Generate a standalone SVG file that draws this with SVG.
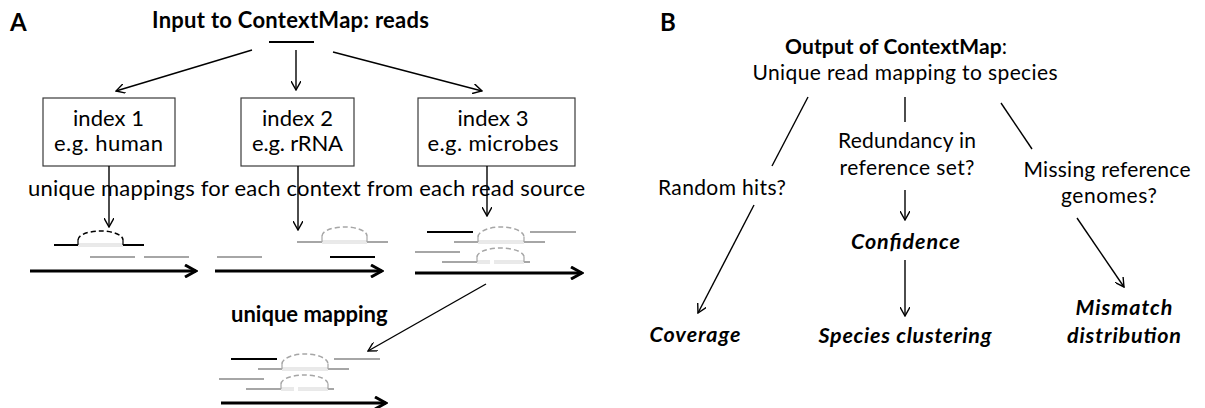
<svg xmlns="http://www.w3.org/2000/svg" xmlns:xlink="http://www.w3.org/1999/xlink" width="1205" height="408" viewBox="0 0 1205 408">
  <style>
    text { font-family: Lato, "Liberation Sans", sans-serif; fill: #000; }
    .lbl { font-size: 24px; font-weight: bold; }
    .ttl { font-size: 22px; font-weight: bold; }
    .box-t { font-size: 22px; }
    .long { font-size: 22px; }
    .txt { font-size: 21px; }
    .res { font-size: 21.5px; font-weight: bold; font-style: italic; }
    .box { fill: #fff; stroke: #3a3a3a; stroke-width: 1.2; }
    .edge { fill: none; stroke: #000; stroke-width: 1.4; }
    .edge-a { fill: none; stroke: #000; stroke-width: 1.4; marker-end: url(#chev); }
    .genome { fill: none; stroke: #000; stroke-width: 3; marker-end: url(#chevBig); }
    .rk { fill: none; stroke: #000; stroke-width: 2; }
    .rg { fill: none; stroke: #a6a6a6; stroke-width: 2; }
    .tk { fill: none; stroke: #000; stroke-width: 1.2; }
    .tg { fill: none; stroke: #a6a6a6; stroke-width: 1.2; }
    .arcK { fill: none; stroke: #000; stroke-width: 1.5; stroke-dasharray: 5 3; }
    .arcG { fill: none; stroke: #a6a6a6; stroke-width: 1.5; stroke-dasharray: 5 3; }
    .gap { fill: none; stroke: #d4d4d4; stroke-width: 3; }
    .gapIn { fill: none; stroke: #fff; stroke-width: 1; }
  </style>
  <defs>
    <marker id="chev" viewBox="0 0 10 10" refX="9" refY="5" markerWidth="10" markerHeight="10" markerUnits="userSpaceOnUse" orient="auto">
      <path d="M0,0 L9,5 L0,10" fill="none" stroke="#000" stroke-width="1.4"/>
    </marker>
    <marker id="chevBig" viewBox="0 0 14 14" refX="12" refY="7" markerWidth="14" markerHeight="14" markerUnits="userSpaceOnUse" orient="auto">
      <path d="M1,1 L12,7 L1,13" fill="none" stroke="#000" stroke-width="3"/>
    </marker>
    <!-- stacked reads with two spliced alignments (microbe context) -->
    <g id="readsMicrobes">
      <path class="rk" d="M427,232 H473"/>
      <path class="rg" d="M454,242 H478 M524,242 H545"/>
      <path class="gap" d="M478,242 H524"/>
      <path class="gapIn" d="M478,242 H524"/>
      <path class="tg" d="M478,242 V237 M524,237 V242"/>
      <path class="arcG" d="M478,237 A23,10 0 0 1 524,237"/>
      <path class="rg" d="M530,232 H576"/>
      <path class="rg" d="M415,252 H460"/>
      <path class="rg" d="M442,262 H477 M524,262 H530"/>
      <path class="gap" d="M477,262 H490 M494,262 H524"/>
      <path class="gapIn" d="M477,262 H490 M494,262 H524"/>
      <path class="tg" d="M477,262 V257 M524,257 V262"/>
      <path class="arcG" d="M477,257 A23.5,9 0 0 1 524,257"/>
    </g>
  </defs>

  <rect width="1205" height="408" fill="#fff"/>

  <!-- ===== Panel A ===== -->
  <text class="lbl" x="10" y="31">A</text>

  <g id="input">
    <text class="ttl" x="152" y="28" textLength="277">Input to ContextMap: reads</text>
    <path class="rk" d="M269,42 H314"/>
  </g>

  <g id="index1">
    <rect class="box" x="43" y="98" width="132" height="68"/>
    <text class="box-t" x="108.5" y="126" text-anchor="middle" textLength="71">index 1</text>
    <text class="box-t" x="108.5" y="151" text-anchor="middle" textLength="109">e.g. human</text>
  </g>
  <g id="index2">
    <rect class="box" x="241" y="98" width="113" height="68"/>
    <text class="box-t" x="297.5" y="126" text-anchor="middle" textLength="71">index 2</text>
    <text class="box-t" x="297.5" y="151" text-anchor="middle" textLength="91">e.g. rRNA</text>
  </g>
  <g id="index3">
    <rect class="box" x="418" y="98" width="157" height="68"/>
    <text class="box-t" x="493" y="126" text-anchor="middle" textLength="71">index 3</text>
    <text class="box-t" x="493" y="151" text-anchor="middle" textLength="131">e.g. microbes</text>
  </g>

  <g id="caption">
    <text class="long" x="28" y="196" textLength="557">unique mappings for each context from each read source</text>
  </g>

  <!-- mapped reads per context -->
  <g id="human-mappings">
    <path class="rk" d="M54,245 H78 M123,245 H144"/>
    <path class="gap" d="M78,245 H123"/>
    <path class="gapIn" d="M78,245 H123"/>
    <path class="tk" d="M78,245 V240 M123,240 V245"/>
    <path class="arcK" d="M78,240 A22.5,9 0 0 1 123,240"/>
    <path class="rg" d="M90,257 H135 M144,257 H189"/>
    <path class="genome" d="M30,271 H196"/>
  </g>

  <g id="rrna-mappings">
    <path class="rg" d="M297,242 H322 M367,242 H388"/>
    <path class="gap" d="M322,242 H367"/>
    <path class="gapIn" d="M322,242 H367"/>
    <path class="tg" d="M322,242 V236 M367,236 V242"/>
    <path class="arcG" d="M322,236 A22.5,9 0 0 1 367,236"/>
    <path class="rg" d="M217,257 H262"/>
    <path class="rk" d="M330,257 H375"/>
    <path class="genome" d="M215,271 H382"/>
  </g>

  <g id="microbe-mappings">
    <use xlink:href="#readsMicrobes"/>
    <path class="genome" d="M415,273 H582"/>
  </g>

  <g id="unique-mapping">
    <text class="ttl" x="231" y="322" font-size="19.5">unique mapping</text>
    <use xlink:href="#readsMicrobes" transform="translate(-196,127)"/>
    <path class="genome" d="M221,403 H386"/>
  </g>

  <g id="connectors-a">
    <path class="edge-a" d="M252,50 L116,91"/>
    <path class="edge-a" d="M296,50 V90"/>
    <path class="edge-a" d="M333,52 L482,91"/>
    <path class="edge-a" d="M109,166 V227"/>
    <path class="edge-a" d="M298,166 V230"/>
    <path class="edge-a" d="M487,166 V216"/>
    <path class="edge-a" d="M486,284 L368,351"/>
  </g>

  <!-- ===== Panel B ===== -->
  <text class="lbl" x="660" y="31">B</text>

  <g id="output">
    <text class="txt" x="785" y="54" textLength="222"><tspan font-weight="bold">Output of ContextMap</tspan>:</text>
    <text class="txt" x="905" y="80" text-anchor="middle" textLength="305">Unique read mapping to species</text>
  </g>

  <g id="random-hits">
    <text class="txt" x="722" y="195" text-anchor="middle" textLength="128">Random hits?</text>
  </g>
  <g id="redundancy">
    <text class="txt" x="907" y="148" text-anchor="middle" textLength="138">Redundancy in</text>
    <text class="txt" x="907" y="175" text-anchor="middle" textLength="135">reference set?</text>
  </g>
  <g id="missing">
    <text class="txt" x="1107" y="177" text-anchor="middle" textLength="167">Missing reference</text>
    <text class="txt" x="1109" y="203" text-anchor="middle" textLength="96">genomes?</text>
  </g>
  <g id="confidence">
    <text class="res" x="905.5" y="249" text-anchor="middle" textLength="109">Confidence</text>
  </g>
  <g id="coverage">
    <text class="res" x="695" y="342" text-anchor="middle" textLength="91">Coverage</text>
  </g>
  <g id="species-clustering">
    <text class="res" x="905" y="343" text-anchor="middle" textLength="173">Species clustering</text>
  </g>
  <g id="mismatch">
    <text class="res" x="1124" y="315" text-anchor="middle" textLength="97">Mismatch</text>
    <text class="res" x="1124" y="343" text-anchor="middle" textLength="114">distribution</text>
  </g>

  <g id="connectors-b">
    <path class="edge" d="M808,97 L772,166"/>
    <path class="edge" d="M905,97 V122"/>
    <path class="edge" d="M1001,103 L1032,149"/>
    <path class="edge-a" d="M754,205 L698,313"/>
    <path class="edge-a" d="M905,190 V220"/>
    <path class="edge-a" d="M905,260 V316"/>
    <path class="edge-a" d="M1077,218 L1124,287"/>
  </g>
</svg>
